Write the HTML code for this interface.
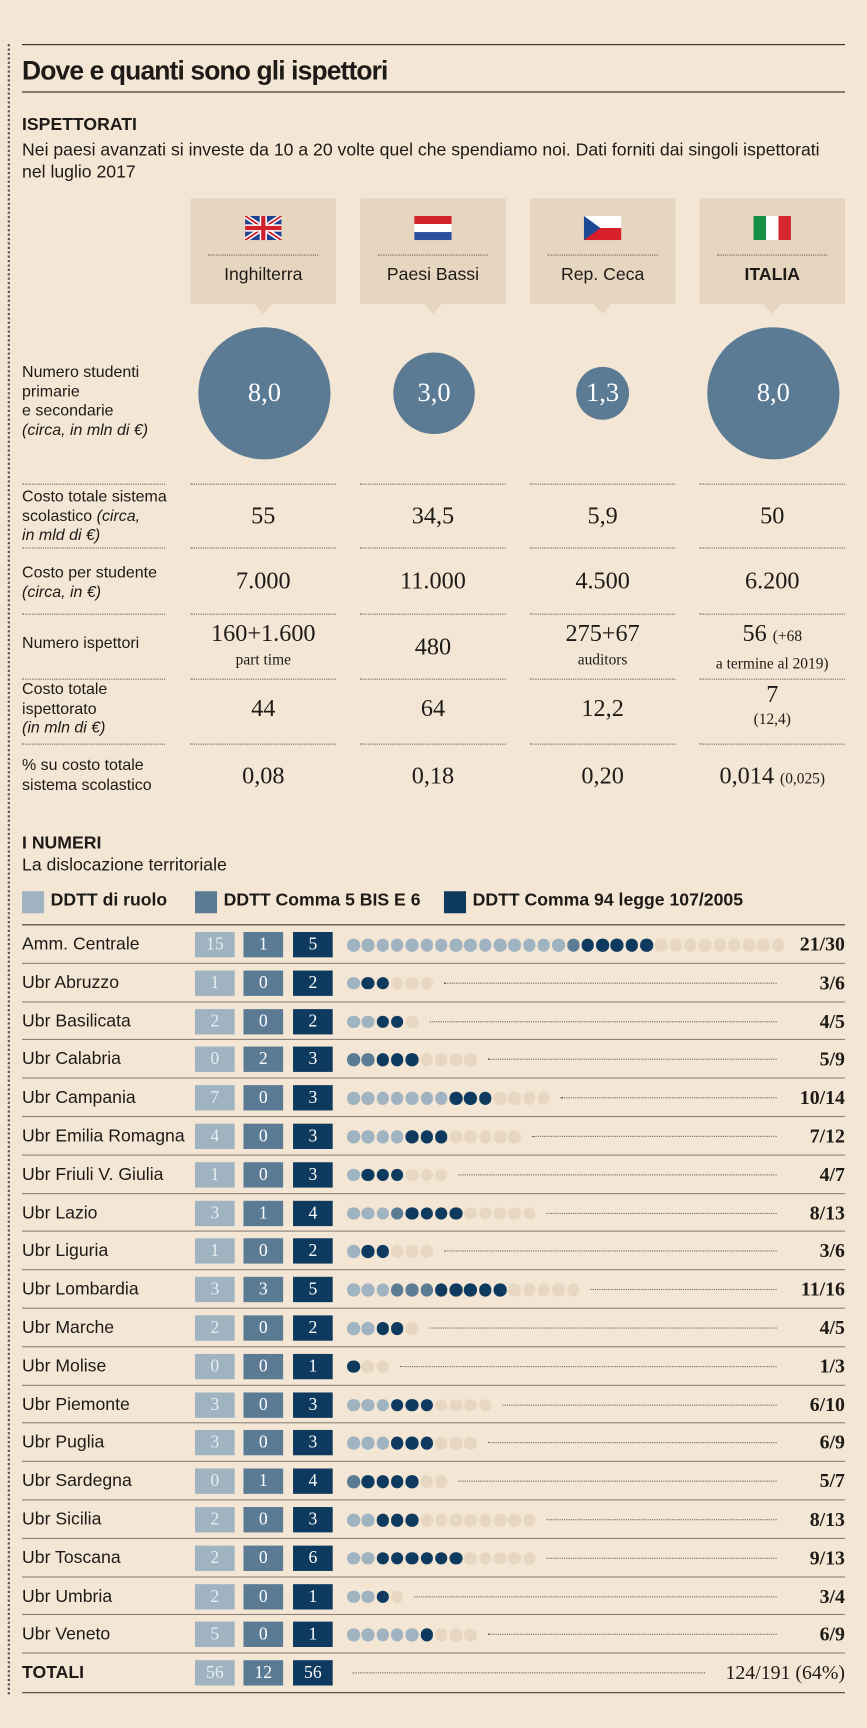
<!DOCTYPE html>
<html><head><meta charset="utf-8">
<style>
html,body{margin:0;padding:0;background:#f4e6d4;}
body{width:867px;height:1728px;overflow:hidden;}
#w{position:absolute;left:0;top:0;width:787px;height:1568px;transform:scale(1.10165);transform-origin:0 0;font-family:"Liberation Sans Narrow","Liberation Sans",sans-serif;color:#1e1a17;}
.a{position:absolute;white-space:nowrap;}
.rule{position:absolute;left:20px;width:747px;height:0;border-top:1.3px solid #2a2520;}
.dl{position:absolute;border-top:1px dotted #6a625a;height:0;}
.box{position:absolute;top:180px;width:132px;height:96px;background:#e6d5bf;}
.box:after{content:"";position:absolute;left:58px;bottom:-9px;border-left:8px solid transparent;border-right:8px solid transparent;border-top:9px solid #e6d5bf;}
.box .nm{position:absolute;left:0;right:0;top:61px;text-align:center;font-size:16px;}
.box .dd{position:absolute;left:16px;right:16px;top:51px;border-top:1px dotted #6a625a;}
.flag{position:absolute;left:49px;top:16px;width:34px;height:22px;}
.circ{position:absolute;border-radius:50%;background:#5b7a94;color:#fff;font-family:"Liberation Serif",serif;font-size:24px;display:flex;align-items:center;justify-content:center;}
.lab{position:absolute;left:20px;font-size:14.5px;line-height:17.5px;}
.val{position:absolute;width:132px;text-align:center;font-family:"Liberation Serif",serif;font-size:22px;}
.sm{font-size:14px;}
.row{position:absolute;left:20px;width:747px;height:35px;border-top:1px solid #8d8177;}
.row .n{position:absolute;left:0;top:9px;font-size:16px;}
.b{position:absolute;top:6px;width:36px;height:23px;color:#fff;font-family:"Liberation Serif",serif;font-size:16px;text-align:center;line-height:23px;}
.b1{left:157px;background:#9fb3c1;color:#e6eef2;}
.b2{left:201px;background:#5b7a94;}
.b3{left:246px;background:#0d3a5e;}
.r{position:absolute;right:0;top:7px;font-family:"Liberation Serif",serif;font-weight:bold;font-size:18px;}
.dots{position:absolute;left:295px;top:12px;height:12px;}
.dot{position:absolute;top:0;width:11.5px;height:11.5px;border-radius:50%;}
.ln{position:absolute;top:17px;border-top:1px dotted #6a625a;}
</style></head><body><div id="w">
<div class="a" style="left:7px;top:40px;height:1498px;border-left:2px dotted #555;"></div>
<div class="rule" style="top:40px"></div>
<div class="a" style="left:20px;top:51px;font-size:24px;font-weight:bold;letter-spacing:-0.8px;">Dove e quanti sono gli ispettori</div>
<div class="rule" style="top:83px"></div>
<div class="a" style="left:20px;top:105px;font-size:16px;font-weight:bold;">ISPETTORATI</div>
<div class="a" style="left:20px;top:127px;font-size:16px;line-height:20px;">Nei paesi avanzati si investe da 10 a 20 volte quel che spendiamo noi. Dati forniti dai singoli ispettorati<br>nel luglio 2017</div>

<div class="box" style="left:173px"><svg class="flag" viewBox="0 0 60 40"><rect width="60" height="40" fill="#1f3f8f"/><path d="M0 0L60 40M60 0L0 40" stroke="#fff" stroke-width="8"/><path d="M0 0L60 40M60 0L0 40" stroke="#d0202a" stroke-width="3"/><path d="M30 0V40M0 20H60" stroke="#fff" stroke-width="12"/><path d="M30 0V40M0 20H60" stroke="#d0202a" stroke-width="7"/></svg><div class="dd"></div><div class="nm">Inghilterra</div></div>
<div class="box" style="left:327px"><svg class="flag" viewBox="0 0 3 3" preserveAspectRatio="none"><rect width="3" height="1" fill="#d2232b"/><rect y="1" width="3" height="1" fill="#fff"/><rect y="2" width="3" height="1" fill="#2b4d9c"/></svg><div class="dd"></div><div class="nm">Paesi Bassi</div></div>
<div class="box" style="left:481px"><svg class="flag" viewBox="0 0 34 22"><rect width="34" height="11" fill="#fff"/><rect y="11" width="34" height="11" fill="#d81e2a"/><path d="M0 0L15 11L0 22Z" fill="#1e4a95"/></svg><div class="dd"></div><div class="nm">Rep. Ceca</div></div>
<div class="box" style="left:635px"><svg class="flag" viewBox="0 0 3 3" preserveAspectRatio="none"><rect width="1" height="3" fill="#149046"/><rect x="1" width="1" height="3" fill="#fff"/><rect x="2" width="1" height="3" fill="#d62630"/></svg><div class="dd"></div><div class="nm" style="font-weight:bold">ITALIA</div></div>

<div class="circ" style="left:180px;top:297px;width:120px;height:120px;">8,0</div>
<div class="circ" style="left:357px;top:320px;width:74px;height:74px;">3,0</div>
<div class="circ" style="left:523px;top:333px;width:48px;height:48px;">1,3</div>
<div class="circ" style="left:642px;top:297px;width:120px;height:120px;">8,0</div>
<div class="lab" style="top:330px">Numero studenti<br>primarie<br>e secondarie<br><i>(circa, in mln di €)</i></div>

<div class="dl" style="left:20px;width:130px;top:439px"></div><div class="dl" style="left:173px;width:132px;top:439px"></div><div class="dl" style="left:327px;width:132px;top:439px"></div><div class="dl" style="left:481px;width:132px;top:439px"></div><div class="dl" style="left:635px;width:132px;top:439px"></div>
<div class="dl" style="left:20px;width:130px;top:497px"></div><div class="dl" style="left:173px;width:132px;top:497px"></div><div class="dl" style="left:327px;width:132px;top:497px"></div><div class="dl" style="left:481px;width:132px;top:497px"></div><div class="dl" style="left:635px;width:132px;top:497px"></div>
<div class="dl" style="left:20px;width:130px;top:557px"></div><div class="dl" style="left:173px;width:132px;top:557px"></div><div class="dl" style="left:327px;width:132px;top:557px"></div><div class="dl" style="left:481px;width:132px;top:557px"></div><div class="dl" style="left:635px;width:132px;top:557px"></div>
<div class="dl" style="left:20px;width:130px;top:616px"></div><div class="dl" style="left:173px;width:132px;top:616px"></div><div class="dl" style="left:327px;width:132px;top:616px"></div><div class="dl" style="left:481px;width:132px;top:616px"></div><div class="dl" style="left:635px;width:132px;top:616px"></div>
<div class="dl" style="left:20px;width:130px;top:675px"></div><div class="dl" style="left:173px;width:132px;top:675px"></div><div class="dl" style="left:327px;width:132px;top:675px"></div><div class="dl" style="left:481px;width:132px;top:675px"></div><div class="dl" style="left:635px;width:132px;top:675px"></div>

<div class="lab" style="top:443px">Costo totale sistema<br>scolastico <i>(circa,</i><br><i>in mld di €)</i></div>
<div class="val" style="left:173px;top:455px">55</div><div class="val" style="left:327px;top:455px">34,5</div><div class="val" style="left:481px;top:455px">5,9</div><div class="val" style="left:635px;top:455px">50</div>
<div class="lab" style="top:512px">Costo per studente<br><i>(circa, in €)</i></div>
<div class="val" style="left:173px;top:514px">7.000</div><div class="val" style="left:327px;top:514px">11.000</div><div class="val" style="left:481px;top:514px">4.500</div><div class="val" style="left:635px;top:514px">6.200</div>
<div class="lab" style="top:576px">Numero ispettori</div>
<div class="val" style="left:173px;top:564px;line-height:21px">160+1.600<br><span class="sm">part time</span></div>
<div class="val" style="left:327px;top:574px">480</div>
<div class="val" style="left:481px;top:564px;line-height:21px">275+67<br><span class="sm">auditors</span></div>
<div class="val" style="left:625px;width:152px;top:564px;line-height:21px">56 <span class="sm">(+68</span><br><span class="sm">a termine al 2019)</span></div>
<div class="lab" style="top:618px">Costo totale<br>ispettorato<br><i>(in mln di €)</i></div>
<div class="val" style="left:173px;top:630px">44</div><div class="val" style="left:327px;top:630px">64</div><div class="val" style="left:481px;top:630px">12,2</div>
<div class="val" style="left:635px;top:620px;line-height:20px">7<br><span class="sm">(12,4)</span></div>
<div class="lab" style="top:687px">% su costo totale<br>sistema scolastico</div>
<div class="val" style="left:173px;top:691px">0,08</div><div class="val" style="left:327px;top:691px">0,18</div><div class="val" style="left:481px;top:691px">0,20</div>
<div class="val" style="left:625px;width:152px;top:691px">0,014 <span class="sm">(0,025)</span></div>

<div class="a" style="left:20px;top:757px;font-size:16px;font-weight:bold;">I NUMERI</div>
<div class="a" style="left:20px;top:777px;font-size:16px;">La dislocazione territoriale</div>
<div class="a" style="left:20px;top:809px;width:20px;height:20px;background:#9fb3c1"></div>
<div class="a" style="left:46px;top:809px;font-size:16px;font-weight:bold;">DDTT di ruolo</div>
<div class="a" style="left:177px;top:809px;width:20px;height:20px;background:#5b7a94"></div>
<div class="a" style="left:203px;top:809px;font-size:16px;font-weight:bold;">DDTT Comma 5 BIS E 6</div>
<div class="a" style="left:403px;top:809px;width:20px;height:20px;background:#0d3a5e"></div>
<div class="a" style="left:429px;top:809px;font-size:16px;font-weight:bold;">DDTT Comma 94 legge 107/2005</div>

<div id="rows">
<div class="row" data-v="15,1,5,30"><span class="n">Amm. Centrale</span><div class="b b1">15</div><div class="b b2">1</div><div class="b b3">5</div><span class="r">21/30</span></div>
<div class="row" data-v="1,0,2,6"><span class="n">Ubr Abruzzo</span><div class="b b1">1</div><div class="b b2">0</div><div class="b b3">2</div><span class="r">3/6</span></div>
<div class="row" data-v="2,0,2,5"><span class="n">Ubr Basilicata</span><div class="b b1">2</div><div class="b b2">0</div><div class="b b3">2</div><span class="r">4/5</span></div>
<div class="row" data-v="0,2,3,9"><span class="n">Ubr Calabria</span><div class="b b1">0</div><div class="b b2">2</div><div class="b b3">3</div><span class="r">5/9</span></div>
<div class="row" data-v="7,0,3,14"><span class="n">Ubr Campania</span><div class="b b1">7</div><div class="b b2">0</div><div class="b b3">3</div><span class="r">10/14</span></div>
<div class="row" data-v="4,0,3,12"><span class="n">Ubr Emilia Romagna</span><div class="b b1">4</div><div class="b b2">0</div><div class="b b3">3</div><span class="r">7/12</span></div>
<div class="row" data-v="1,0,3,7"><span class="n">Ubr Friuli V. Giulia</span><div class="b b1">1</div><div class="b b2">0</div><div class="b b3">3</div><span class="r">4/7</span></div>
<div class="row" data-v="3,1,4,13"><span class="n">Ubr Lazio</span><div class="b b1">3</div><div class="b b2">1</div><div class="b b3">4</div><span class="r">8/13</span></div>
<div class="row" data-v="1,0,2,6"><span class="n">Ubr Liguria</span><div class="b b1">1</div><div class="b b2">0</div><div class="b b3">2</div><span class="r">3/6</span></div>
<div class="row" data-v="3,3,5,16"><span class="n">Ubr Lombardia</span><div class="b b1">3</div><div class="b b2">3</div><div class="b b3">5</div><span class="r">11/16</span></div>
<div class="row" data-v="2,0,2,5"><span class="n">Ubr Marche</span><div class="b b1">2</div><div class="b b2">0</div><div class="b b3">2</div><span class="r">4/5</span></div>
<div class="row" data-v="0,0,1,3"><span class="n">Ubr Molise</span><div class="b b1">0</div><div class="b b2">0</div><div class="b b3">1</div><span class="r">1/3</span></div>
<div class="row" data-v="3,0,3,10"><span class="n">Ubr Piemonte</span><div class="b b1">3</div><div class="b b2">0</div><div class="b b3">3</div><span class="r">6/10</span></div>
<div class="row" data-v="3,0,3,9"><span class="n">Ubr Puglia</span><div class="b b1">3</div><div class="b b2">0</div><div class="b b3">3</div><span class="r">6/9</span></div>
<div class="row" data-v="0,1,4,7"><span class="n">Ubr Sardegna</span><div class="b b1">0</div><div class="b b2">1</div><div class="b b3">4</div><span class="r">5/7</span></div>
<div class="row" data-v="2,0,3,13"><span class="n">Ubr Sicilia</span><div class="b b1">2</div><div class="b b2">0</div><div class="b b3">3</div><span class="r">8/13</span></div>
<div class="row" data-v="2,0,6,13"><span class="n">Ubr Toscana</span><div class="b b1">2</div><div class="b b2">0</div><div class="b b3">6</div><span class="r">9/13</span></div>
<div class="row" data-v="2,0,1,4"><span class="n">Ubr Umbria</span><div class="b b1">2</div><div class="b b2">0</div><div class="b b3">1</div><span class="r">3/4</span></div>
<div class="row" data-v="5,0,1,9"><span class="n">Ubr Veneto</span><div class="b b1">5</div><div class="b b2">0</div><div class="b b3">1</div><span class="r">6/9</span></div>
<div class="row" data-t="1"><span class="n" style="font-weight:bold">TOTALI</span><div class="b b1">56</div><div class="b b2">12</div><div class="b b3">56</div><div class="ln" style="left:300px;width:320px"></div><span class="r" style="font-weight:normal">124/191 (64%)</span></div>
</div>
<div class="rule" style="top:1536px;border-top-color:#4a4039"></div>
</div>
<script>
var rows=document.querySelectorAll('#rows .row');
for(var i=0;i<rows.length;i++){
 var r=rows[i];r.style.top=(839+i*34.8)+'px';
 if(i==0)r.style.borderTop='1.3px solid #3a322c';
 var v=r.getAttribute('data-v');if(!v)continue;
 v=v.split(',').map(Number);
 var d=document.createElement('div');d.className='dots';
 var cols=[];for(var k=0;k<v[0];k++)cols.push('#9fb3c1');for(k=0;k<v[1];k++)cols.push('#5b7a94');for(k=0;k<v[2];k++)cols.push('#0d3a5e');
 while(cols.length<v[3])cols.push('#e7d7c1');
 for(k=0;k<cols.length;k++){var s=document.createElement('span');s.className='dot';s.style.left=(k*13.3)+'px';s.style.background=cols[k];d.appendChild(s);}
 r.appendChild(d);
 var end=295+(cols.length-1)*13.3+11.5+10;
 if(end<680){var l=document.createElement('div');l.className='ln';l.style.left=end+'px';l.style.width=(685-end)+'px';r.appendChild(l);}
}
</script>
</body></html>
